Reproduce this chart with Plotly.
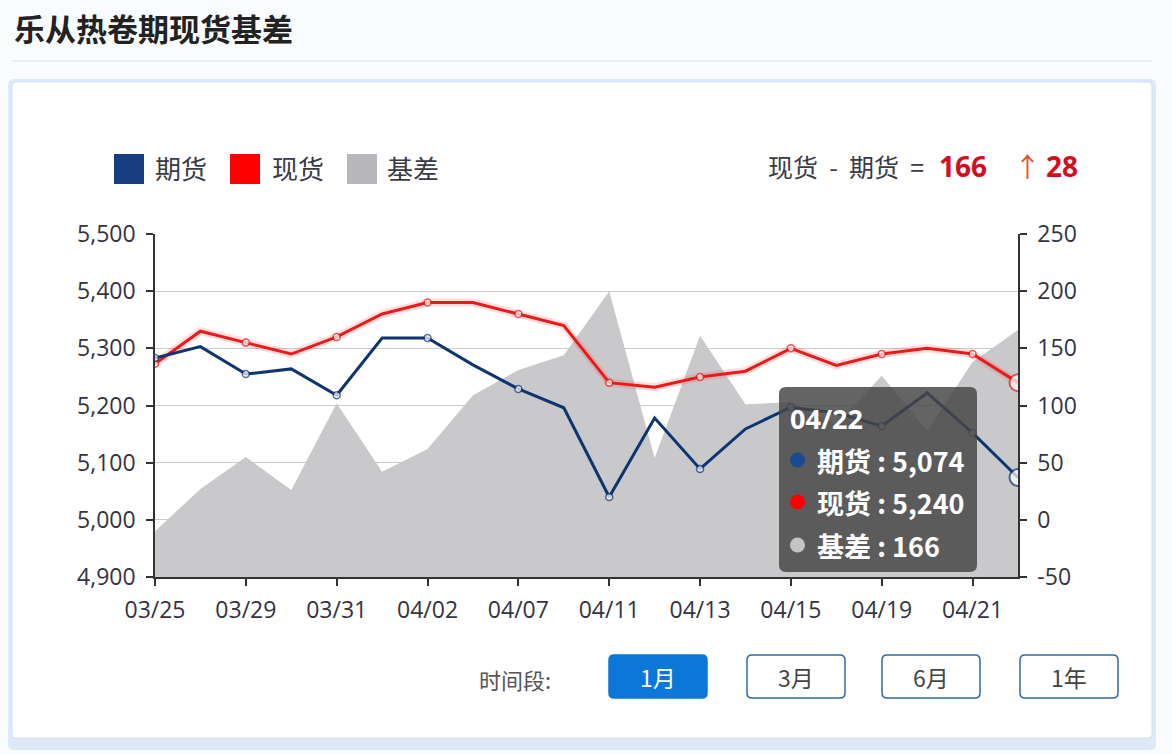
import plotly.graph_objects as go

# ---------------- data ----------------
dates = ["03/25", "03/28", "03/29", "03/30", "03/31", "04/01", "04/02", "04/06", "04/07", "04/08",
         "04/11", "04/12", "04/13", "04/14", "04/15", "04/18", "04/19", "04/20", "04/21", "04/22"]
futures = [5283, 5303, 5255, 5264, 5218, 5318, 5318, 5271, 5229, 5196,
           5040, 5178, 5089, 5159, 5197, 5187, 5164, 5222, 5152, 5074]
spot = [5273, 5330, 5310, 5290, 5320, 5360, 5380, 5380, 5360, 5340,
        5240, 5232, 5250, 5260, 5300, 5270, 5290, 5300, 5290, 5240]
basis = [-10, 27, 55, 26, 102, 42, 62, 109, 131, 144,
         200, 54, 161, 101, 103, 83, 126, 78, 138, 166]
price_ticks = [4900, 5000, 5100, 5200, 5300, 5400, 5500]
basis_ticks = [-50, 0, 50, 100, 150, 200, 250]
buttons = ["1月", "3月", "6月", "1年"]
basis_change = 28

# ---------------- geometry helpers ----------------
W, H = 1172, 754
L, R, T, B = 155, 1018, 234, 577
PW, PH = R - L, B - T

def X(px):
    return (px - L) / PW

def Y(py):
    return (B - py) / PH

def rrect(x0, y0, x1, y1, r):
    pts = [
        ("M", [(x0 + r, y0)]), ("L", [(x1 - r, y0)]), ("Q", [(x1, y0), (x1, y0 + r)]),
        ("L", [(x1, y1 - r)]), ("Q", [(x1, y1), (x1 - r, y1)]), ("L", [(x0 + r, y1)]),
        ("Q", [(x0, y1), (x0, y1 - r)]), ("L", [(x0, y0 + r)]), ("Q", [(x0, y0), (x0 + r, y0)]),
    ]
    s = ""
    for cmd, ps in pts:
        s += cmd + " " + " ".join(f"{X(px):.5f},{Y(py):.5f}" for px, py in ps) + " "
    return s + "Z"

FONT = "Open Sans, Noto Sans CJK SC, sans-serif"
CJK = "Noto Sans CJK SC, sans-serif"
BLUE = "#0f3570"
RED = "#e81b1b"
GRAY = "#c9c9cc"
NB = "\u00a0"

n = len(dates)
idx = list(range(n))

fig = go.Figure()

# basis area (primary y, right side)
fig.add_trace(go.Scatter(x=idx, y=[basis_ticks[0]] * n, mode="lines", line=dict(width=0),
                         yaxis="y", showlegend=False, hoverinfo="skip"))
fig.add_trace(go.Scatter(x=idx, y=basis, mode="lines", line=dict(width=0, color=GRAY),
                         fill="tonexty", fillcolor=GRAY, yaxis="y", showlegend=False))

msize = [7 if i % 2 == 0 else 0 for i in idx]
msize[-1] = 17
mlw = [1.5] * n
mlw[-1] = 2

# spot glow + line
fig.add_trace(go.Scatter(x=idx, y=spot, mode="lines", line=dict(width=8, color="rgba(255,60,60,0.18)"),
                         yaxis="y2", showlegend=False, hoverinfo="skip"))
fig.add_trace(go.Scatter(x=idx, y=spot, mode="lines+markers", line=dict(width=3, color=RED),
                         marker=dict(size=msize, color="white", line=dict(color=RED, width=mlw)),
                         yaxis="y2", showlegend=False))
fig.add_trace(go.Scatter(x=idx, y=futures, mode="lines+markers", line=dict(width=3, color=BLUE),
                         marker=dict(size=msize, color="white", line=dict(color=BLUE, width=mlw)),
                         yaxis="y2", showlegend=False))

shapes = []
# card shadow & card
shapes.append(dict(type="path", path=rrect(8, 79, 1156, 750, 6), xref="paper", yref="paper",
                   fillcolor="#dde9f6", line=dict(width=0), layer="below"))
shapes.append(dict(type="path", path=rrect(12, 82, 1152, 738, 4), xref="paper", yref="paper",
                   fillcolor="#ffffff", line=dict(width=1, color="#d0e0f0"), layer="below"))
# separator under title
shapes.append(dict(type="line", x0=X(12), x1=X(1152), y0=Y(61), y1=Y(61), xref="paper", yref="paper",
                   line=dict(color="#e5e8ec", width=1.5), layer="below"))

annotations = []
annotations.append(dict(text="<b>乐从热卷期现货基差</b>", x=X(12), y=Y(28), xref="paper", yref="paper",
                        xanchor="left", yanchor="middle", showarrow=False,
                        font=dict(family=CJK, size=31, color="#222222")))

# legend
leg = [("期货", "#173f7f", 114, 153), ("现货", "#ff0000", 230, 270), ("基差", "#b8b8bc", 347, 385)]
for name, col, sx, tx in leg:
    shapes.append(dict(type="rect", x0=X(sx), x1=X(sx + 30), y0=Y(154), y1=Y(184), xref="paper", yref="paper",
                       fillcolor=col, line=dict(width=0)))
    annotations.append(dict(text=name, x=X(tx), y=Y(167), xref="paper", yref="paper", xanchor="left",
                            yanchor="middle", showarrow=False, font=dict(family=CJK, size=26, color="#3a3a48")))

# top-right summary
annotations.append(dict(text=f"现货{NB}{NB}-{NB}{NB}期货{NB}{NB}=", x=X(926), y=Y(166), xref="paper", yref="paper",
                        xanchor="right", yanchor="middle", showarrow=False,
                        font=dict(family=CJK, size=25, color="#3a3a48")))
annotations.append(dict(text=f"<b>{basis[-1]}</b>", x=X(937), y=Y(166), xref="paper", yref="paper",
                        xanchor="left", yanchor="middle", showarrow=False,
                        font=dict(family=FONT, size=28, color="#d0101e")))
annotations.append(dict(text="↑", x=X(1027), y=Y(165), xref="paper", yref="paper",
                        xanchor="center", yanchor="middle", showarrow=False,
                        font=dict(family=CJK, size=27, color="#e8502a")))
annotations.append(dict(text=f"<b>{basis_change}</b>", x=X(1044), y=Y(166), xref="paper", yref="paper",
                        xanchor="left", yanchor="middle", showarrow=False,
                        font=dict(family=FONT, size=28, color="#d0101e")))

# tooltip
shapes.append(dict(type="path", path=rrect(779, 387, 977, 572, 7), xref="paper", yref="paper",
                   fillcolor="rgba(70,70,70,0.84)", line=dict(width=0), layer="above"))
annotations.append(dict(text="<b>" + dates[-1] + "</b>", x=X(788), y=Y(418), xref="paper", yref="paper",
                        xanchor="left", yanchor="middle", showarrow=False,
                        font=dict(family=FONT, size=27, color="white")))
rows = [("期货", f"{futures[-1]:,}", "#1a4a8f", 460), ("现货", f"{spot[-1]:,}", "#ff0000", 502),
        ("基差", f"{basis[-1]:,}", "#c4c4c4", 545)]
for name, val, col, ry in rows:
    shapes.append(dict(type="circle", x0=X(790), x1=X(805), y0=Y(ry - 7.5), y1=Y(ry + 7.5),
                       xref="paper", yref="paper", fillcolor=col, line=dict(width=0), layer="above"))
    annotations.append(dict(text=f"<b>{name} : {val}</b>", x=X(815), y=Y(ry), xref="paper", yref="paper",
                            xanchor="left", yanchor="middle", showarrow=False,
                            font=dict(family=CJK, size=27, color="white")))

# time-range buttons
annotations.append(dict(text="时间段:", x=X(477), y=Y(679), xref="paper", yref="paper", xanchor="left",
                        yanchor="middle", showarrow=False, font=dict(family=CJK, size=22, color="#555555")))
bx = [609, 747, 882, 1020]
for i, (lab, x0) in enumerate(zip(buttons, bx)):
    active = i == 0
    shapes.append(dict(type="path", path=rrect(x0, 655, x0 + 98, 698, 5), xref="paper", yref="paper",
                       fillcolor="#0b78d9" if active else "white",
                       line=dict(width=1.5, color="#0b78d9" if active else "#2f6aa6")))
    annotations.append(dict(text=lab, x=X(x0 + 49), y=Y(677), xref="paper", yref="paper", xanchor="center",
                            yanchor="middle", showarrow=False,
                            font=dict(family=CJK, size=23, color="white" if active else "#444444")))

fig.update_layout(
    width=W, height=H,
    margin=dict(l=L, r=W - R, t=T, b=H - B),
    paper_bgcolor="#f9fbfd",
    plot_bgcolor="rgba(0,0,0,0)",
    showlegend=False,
    hovermode=False,
    font=dict(family=FONT, color="#333333"),
    xaxis=dict(range=[0, n - 1], tickvals=idx[::2], ticktext=dates[::2], showline=True, linecolor="#333333",
               linewidth=1.5, ticks="outside", ticklen=7, tickcolor="#333333", tickwidth=1.5, showgrid=False,
               zeroline=False, tickfont=dict(size=23, color="#333344"), ticklabelstandoff=5),
    yaxis=dict(side="right", range=[basis_ticks[0], basis_ticks[-1]], tickvals=basis_ticks,
               ticktext=[str(v) for v in basis_ticks], showline=True, linecolor="#333333", linewidth=1.5,
               ticks="outside", ticklen=7, tickcolor="#333333", tickwidth=1.5, showgrid=True,
               gridcolor="#cccccc", gridwidth=1, zeroline=False, tickfont=dict(size=23, color="#333344"),
               ticklabelstandoff=6),
    yaxis2=dict(overlaying="y", side="left", range=[price_ticks[0], price_ticks[-1]], tickvals=price_ticks,
                tickformat=",d", showline=True, linecolor="#333333", linewidth=1.5, ticks="outside",
                ticklen=7, tickcolor="#333333", tickwidth=1.5, showgrid=False, zeroline=False,
                tickfont=dict(size=23, color="#333344"), ticklabelstandoff=6),
    shapes=shapes,
    annotations=annotations,
)

fig.write_html("out.html", config={"displayModeBar": False},
               post_script="document.body.style.margin='0';document.body.style.padding='0';")
